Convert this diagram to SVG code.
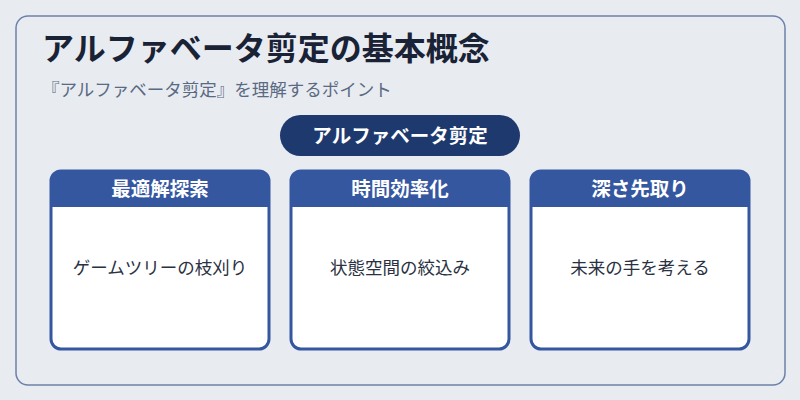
<svg xmlns="http://www.w3.org/2000/svg" width="800" height="400" viewBox="0 0 800 400">
<style>
.jp{font-family:"Noto Sans CJK JP","Noto Sans",sans-serif}
.card{fill:#ffffff;stroke:#3557a0;stroke-width:3}
.hdr{fill:#3557a0}
.ht{font-size:19.5px;font-weight:bold;fill:#ffffff;text-anchor:middle}
.bt{font-size:17.5px;fill:#2a3142;text-anchor:middle}
</style>
<rect width="800" height="400" fill="#e8ecf1"/>
<rect x="16" y="16" width="769" height="369" rx="12" fill="#e8ecf1" stroke="#6b80aa" stroke-width="1.5"/>
<text class="jp" x="42" y="60" font-size="32" font-weight="bold" fill="#1a2236">アルファベータ剪定の基本概念</text>
<text class="jp" x="42" y="96" font-size="17.5" fill="#5a6a82">『アルファベータ剪定』を理解するポイント</text>
<g id="root">
<rect x="280" y="115" width="240" height="41" rx="20.5" fill="#1e396e"/>
<text class="jp" x="400" y="143" font-size="19.5" font-weight="bold" fill="#ffffff" text-anchor="middle">アルファベータ剪定</text>
</g>
<g id="connectors"></g>
<g id="card1">
<rect class="card" x="51" y="171" width="218" height="178" rx="10"/>
<path class="hdr" d="M51,207 V181 A10,10 0 0 1 61,171 H259 A10,10 0 0 1 269,181 V207 Z"/>
<text class="jp ht" x="160" y="196">最適解探索</text>
<text class="jp bt" x="160" y="274">ゲームツリーの枝刈り</text>
</g>
<g id="card2">
<rect class="card" x="291" y="171" width="218" height="178" rx="10"/>
<path class="hdr" d="M291,207 V181 A10,10 0 0 1 301,171 H499 A10,10 0 0 1 509,181 V207 Z"/>
<text class="jp ht" x="400" y="196">時間効率化</text>
<text class="jp bt" x="400" y="274">状態空間の絞込み</text>
</g>
<g id="card3">
<rect class="card" x="531" y="171" width="218" height="178" rx="10"/>
<path class="hdr" d="M531,207 V181 A10,10 0 0 1 541,171 H739 A10,10 0 0 1 749,181 V207 Z"/>
<text class="jp ht" x="640" y="196">深さ先取り</text>
<text class="jp bt" x="640" y="274">未来の手を考える</text>
</g>
</svg>
